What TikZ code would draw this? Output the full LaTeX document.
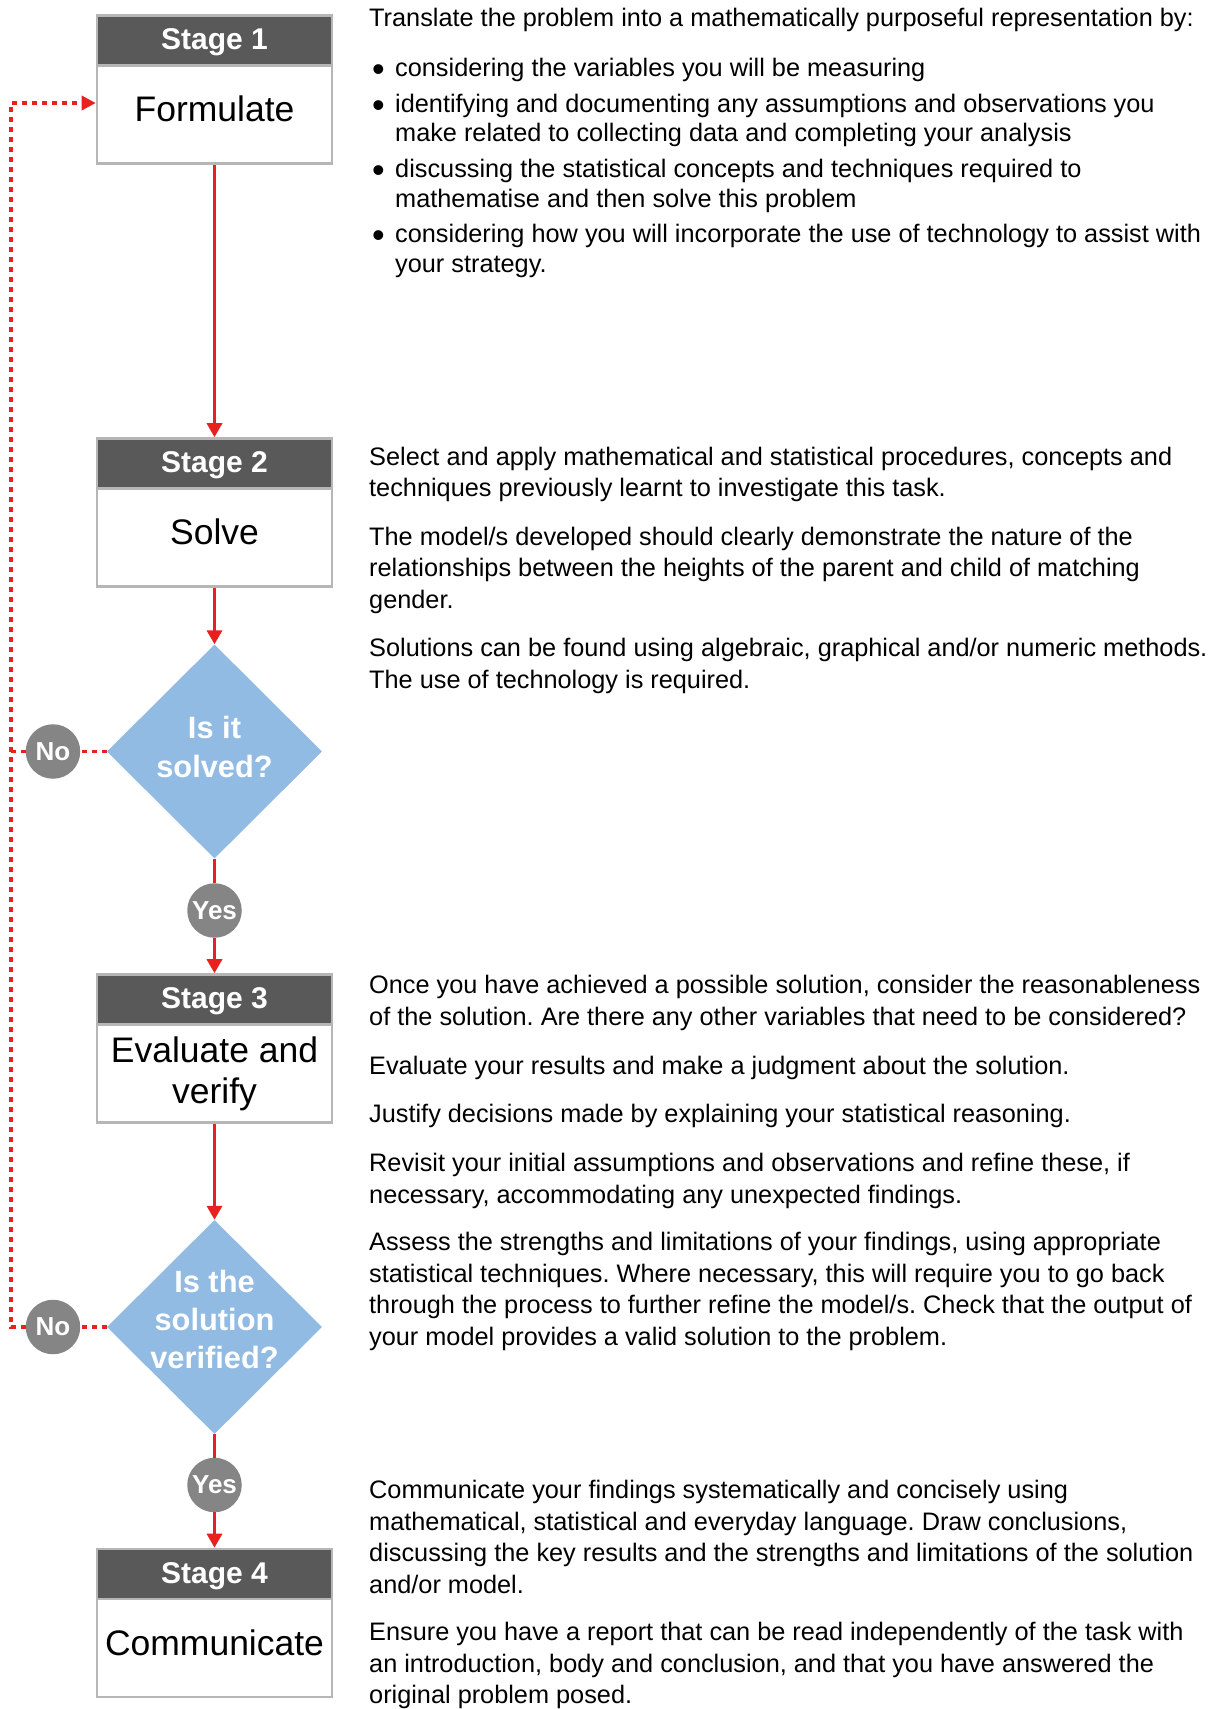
\documentclass[tikz,border=0pt]{standalone}
\usepackage{fontspec}
\setmainfont{Liberation Sans}
\usetikzlibrary{shapes.geometric,arrows.meta}
\frenchspacing
\definecolor{redline}{RGB}{232,32,30}
\definecolor{hdr}{RGB}{89,89,89}
\definecolor{bord}{RGB}{182,182,182}
\definecolor{dia}{RGB}{145,187,227}
\definecolor{circ}{RGB}{133,133,133}
\newcommand{\parabox}[2][31.5]{\parbox[t]{845pt}{\raggedright\frenchspacing\fontsize{25.3}{#1}\selectfont #2}}
\newcommand{\bulitem}[1]{\parbox[t]{820pt}{\raggedright\frenchspacing\fontsize{25.3}{29.5}\selectfont\leavevmode\llap{\raisebox{-5pt}{\fontsize{36}{36}\selectfont\textbullet}\hspace{10.5pt}}#1}}
\tikzset{
  stagebox/.style={draw=bord, line width=2.6pt, fill=white, minimum width=235pt, minimum height=148pt, inner sep=0pt},
  stagehead/.style={draw=bord, line width=2.6pt, fill=hdr, minimum width=235pt, minimum height=50pt, inner sep=0pt,
    text=white, font=\bfseries\fontsize{30}{30}\selectfont, text height=18pt, text depth=0pt},
  labeltxt/.style={font=\fontsize{35.5}{40}\selectfont, inner sep=0pt, anchor=base},
  decision/.style={diamond, fill=dia, minimum width=215pt, minimum height=214pt, inner sep=0pt},
  dtext/.style={text=white, font=\bfseries\fontsize{30.8}{38}\selectfont, inner sep=0pt, anchor=base},
  yn/.style={circle, fill=circ, minimum size=54.5pt, inner sep=0pt, text=white, font=\bfseries\fontsize{26}{26}\selectfont},
  flow/.style={draw=redline, line width=3.3pt, -{Triangle[length=14pt,width=15pt]}},
  flowline/.style={draw=redline, line width=3.3pt},
  loopline/.style={draw=redline, line width=3.3pt, dash pattern=on 5pt off 5pt},
  looparrow/.style={draw=redline, line width=3.3pt, dash pattern=on 5pt off 5pt, -{Triangle[length=14pt,width=14pt]}},
  txt/.style={inner sep=0pt, anchor=base west}
}
\begin{document}
\begin{tikzpicture}[x=1pt,y=-1pt]
\useasboundingbox[fill=white] (0,0) rectangle (1215,1709);

% stages
\node[stagebox] (s1) at (214.5,89.25) {};
\node[stagehead, anchor=north] (s1h) at (s1.north) {Stage 1};
\node[labeltxt] (s1t) at (214.5,121) {Formulate};

\node[stagebox] (s2) at (214.5,512.5) {};
\node[stagehead, anchor=north] (s2h) at (s2.north) {Stage 2};
\node[labeltxt] (s2t) at (214.5,544) {Solve};

\node[stagebox] (s3) at (214.5,1048.5) {};
\node[stagehead, anchor=north] (s3h) at (s3.north) {Stage 3};
\node[labeltxt] (s3ta) at (214.5,1062) {Evaluate and};
\node[labeltxt] (s3tb) at (214.5,1103) {verify};

\node[stagebox] (s4) at (214.5,1623) {};
\node[stagehead, anchor=north] (s4h) at (s4.north) {Stage 4};
\node[labeltxt] (s4t) at (214.5,1655) {Communicate};

% decisions
\node[decision] (d1) at (214.5,751.5) {};
\node[dtext] (d1a) at (214.5,738) {Is it};
\node[dtext] (d1b) at (214.5,777) {solved?};

\node[decision] (d2) at (214.5,1327) {};
\node[dtext] (d2a) at (214.5,1292) {Is the};
\node[dtext] (d2b) at (214.5,1330) {solution};
\node[dtext] (d2c) at (214.5,1368) {verified?};

% yes / no
\node[yn] (no1) at (53,751.5) {No};
\node[yn] (no2) at (53,1327) {No};
\node[yn] (yes1) at (214.5,910.5) {Yes};
\node[yn] (yes2) at (214.5,1485) {Yes};

% connectors
\draw[flow] (s1.south) -- (s2.north);
\draw[flow] (s2.south) -- (d1.north);
\draw[flowline] (d1.south) -- (yes1.north);
\draw[flow] (yes1.south) -- (s3.north);
\draw[flow] (s3.south) -- (d2.north);
\draw[flowline] (d2.south) -- (yes2.north);
\draw[flow] (yes2.south) -- (s4.north);

\coordinate (lp) at (11,103);
\draw[loopline] (d1.west) -- (no1.east);
\draw[loopline] (no1.west) -- (no1.west -| lp);
\draw[loopline] (d2.west) -- (no2.east);
\draw[looparrow] (no2.west) -| (lp) -- (s1.west |- lp);

% texts stage 1
\node[txt] (p1) at (369,26) {\parabox{Translate the problem into a mathematically purposeful representation by:}};
\node[txt] (b1) at (395,76) {\bulitem{considering the variables you will be measuring}};
\node[txt] (b2) at (395,112) {\bulitem{identifying and documenting any assumptions and observations you\\make related to collecting data and completing your analysis}};
\node[txt] (b3) at (395,177.5) {\bulitem{discussing the statistical concepts and techniques required to\\mathematise and then solve this problem}};
\node[txt] (b4) at (395,242.5) {\bulitem{considering how you will incorporate the use of technology to assist with\\your strategy.}};

% texts stage 2
\node[txt] (p2) at (369,465) {\parabox{Select and apply mathematical and statistical procedures, concepts and\\techniques previously learnt to investigate this task.}};
\node[txt] (p3) at (369,545) {\parabox{The model/s developed should clearly demonstrate the nature of the\\relationships between the heights of the parent and child of matching\\gender.}};
\node[txt] (p4) at (369,656.5) {\parabox{Solutions can be found using algebraic, graphical and/or numeric methods.\\The use of technology is required.}};

% texts stage 3
\node[txt] (p5) at (369,993.5) {\parabox{Once you have achieved a possible solution, consider the reasonableness\\of the solution. Are there any other variables that need to be considered?}};
\node[txt] (p6) at (369,1074.5) {\parabox{Evaluate your results and make a judgment about the solution.}};
\node[txt] (p7) at (369,1122.5) {\parabox{Justify decisions made by explaining your statistical reasoning.}};
\node[txt] (p8) at (369,1171.5) {\parabox{Revisit your initial assumptions and observations and refine these, if\\necessary, accommodating any unexpected findings.}};
\node[txt] (p9) at (369,1250.5) {\parabox{Assess the strengths and limitations of your findings, using appropriate\\statistical techniques. Where necessary, this will require you to go back\\through the process to further refine the model/s. Check that the output of\\your model provides a valid solution to the problem.}};

% texts stage 4
\node[txt] (p10) at (369,1498.5) {\parabox{Communicate your findings systematically and concisely using\\mathematical, statistical and everyday language. Draw conclusions,\\discussing the key results and the strengths and limitations of the solution\\and/or model.}};
\node[txt] (p11) at (369,1640.5) {\parabox{Ensure you have a report that can be read independently of the task with\\an introduction, body and conclusion, and that you have answered the\\original problem posed.}};
\end{tikzpicture}
\end{document}
